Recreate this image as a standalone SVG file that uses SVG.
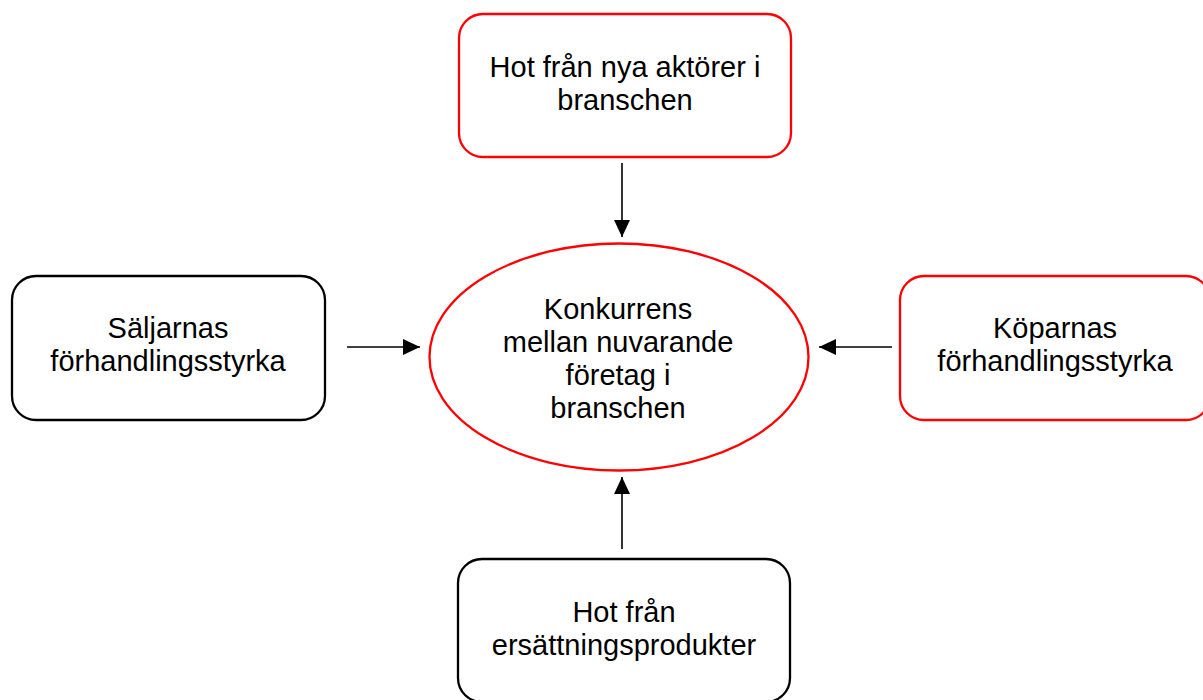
<svg xmlns="http://www.w3.org/2000/svg" width="1203" height="700" viewBox="0 0 1203 700">
  <style>
    .box { fill: #ffffff; stroke-width: 2.3; }
    .red { stroke: #ff0000; }
    .black { stroke: #000000; }
    .label { font-family: "Liberation Sans", Arial, sans-serif; font-size: 29px; fill: #000000; text-anchor: middle; }
    .conn { stroke: #000000; stroke-width: 1.6; fill: none; marker-end: url(#arrow); }
  </style>
  <defs>
    <marker id="arrow" markerUnits="userSpaceOnUse" markerWidth="18" markerHeight="16" refX="17" refY="8" orient="auto">
      <path d="M0,0 L17,8 L0,16 Z" fill="#000000"/>
    </marker>
  </defs>
  <rect width="1203" height="700" fill="#ffffff"/>

  <!-- Five forces -->
  <g id="new-entrants">
    <rect class="box red" x="459" y="14" width="332" height="143" rx="24" ry="24"/>
    <text class="label" x="625" y="77">Hot från nya aktörer i</text>
    <text class="label" x="625" y="110">branschen</text>
  </g>

  <g id="suppliers">
    <rect class="box black" x="12" y="276" width="313" height="144" rx="24" ry="24"/>
    <text class="label" x="168" y="338">Säljarnas</text>
    <text class="label" x="168" y="371">förhandlingsstyrka</text>
  </g>

  <g id="buyers">
    <rect class="box red" x="900" y="276" width="310" height="144" rx="24" ry="24"/>
    <text class="label" x="1055" y="338">Köparnas</text>
    <text class="label" x="1055" y="371">förhandlingsstyrka</text>
  </g>

  <g id="substitutes">
    <rect class="box black" x="458" y="559" width="332" height="143" rx="24" ry="24"/>
    <text class="label" x="624" y="622">Hot från</text>
    <text class="label" x="624" y="655">ersättningsprodukter</text>
  </g>

  <g id="rivalry">
    <ellipse class="box red" cx="619" cy="357" rx="189.5" ry="113.5"/>
    <text class="label" x="618" y="319">Konkurrens</text>
    <text class="label" x="618" y="352">mellan nuvarande</text>
    <text class="label" x="618" y="385">företag i</text>
    <text class="label" x="618" y="418">branschen</text>
  </g>

  <g id="connectors">
    <line class="conn" x1="622" y1="163" x2="622" y2="237"/>
    <line class="conn" x1="347" y1="347" x2="420" y2="347"/>
    <line class="conn" x1="892" y1="347" x2="819" y2="347"/>
    <line class="conn" x1="622" y1="549" x2="622" y2="477"/>
  </g>
</svg>
